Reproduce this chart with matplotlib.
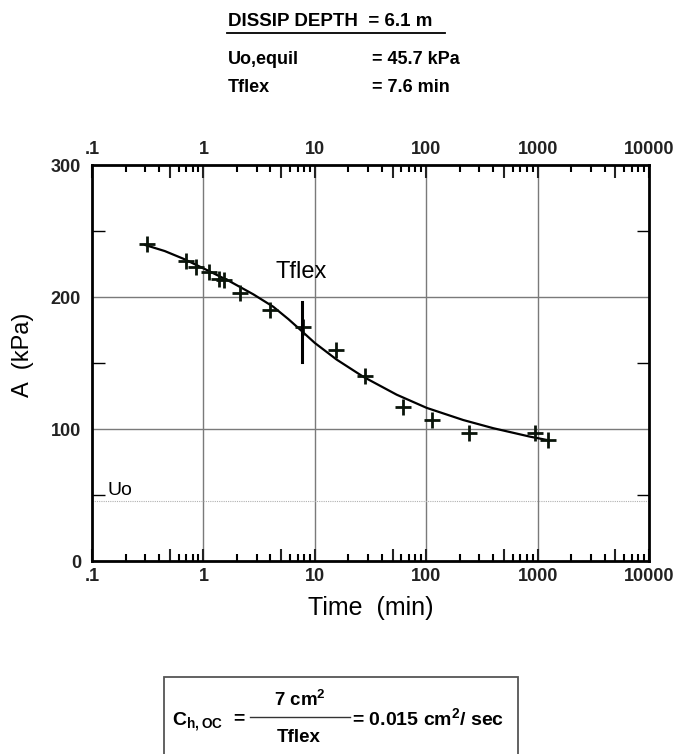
import matplotlib
matplotlib.use("Agg")
import matplotlib.pyplot as plt
from matplotlib.patches import Rectangle
from matplotlib.ticker import FixedLocator, FixedFormatter

plt.rcParams["font.family"] = ["Liberation Sans", "DejaVu Sans"]
plt.rcParams["mathtext.default"] = "regular"

# measured points (time in min, A in kPa)
time_min = [0.31, 0.70, 0.86, 1.12, 1.38, 1.53, 2.14, 3.98, 7.8, 15.5, 28.5, 62, 113, 240, 950, 1240]
a_kpa = [240, 227, 223, 219, 214, 213, 203, 190, 177, 160, 140, 117, 107, 97, 97, 92]

# fitted curve
fit_time = [0.30, 0.45, 0.66, 1.07, 1.73, 2.81, 4.24, 5.8, 7.36, 10.0, 15.7, 27.2, 54.3, 101, 215, 400, 855, 1208]
fit_a = [239.4, 234.8, 229.0, 220.5, 211.8, 202.0, 192.6, 183.2, 175.4, 165.2, 152.6, 139.6, 126.0, 116.0, 106.8, 100.6, 94.2, 91.7]

tflex = 7.6
tflex_span = [151, 196]
uo_equil = 45.7

decades = [0.1, 1, 10, 100, 1000, 10000]
decade_labels = [".1", "1", "10", "100", "1000", "10000"]
fives = [0.5, 5, 50, 500, 5000]
y_major = [0, 100, 200, 300]
y_minor = [50, 150, 250]

W, H = 678, 754
fig = plt.figure(figsize=(W / 100, H / 100), dpi=100)
ax = fig.add_axes([92 / W, 1 - 561 / H, (649 - 92) / W, (561 - 165) / H])

ax.set_xscale("log")
ax.set_xlim(0.1, 10000)
ax.set_ylim(0, 300)

# grid at inner decades and at 100 / 200
for d in decades[1:-1]:
    ax.axvline(d, color="#7a7a7a", lw=1.0, zorder=1)
for v in y_major[1:-1]:
    ax.axhline(v, color="#7a7a7a", lw=1.0, zorder=1)
ax.axhline(uo_equil, color="#b0b0b0", lw=0.8, ls=(0, (1, 1)), zorder=1)

ax.plot(fit_time, fit_a, color="black", lw=1.6, zorder=3, solid_joinstyle="round")
ax.plot(time_min, a_kpa, ls="none", marker="+", ms=11, mew=2.0, color="#0a140a", zorder=4)
ax.plot([tflex, tflex], tflex_span, color="black", lw=2.2, zorder=4)

ax.text(7.6, 219, "Tflex", fontsize=17, ha="center", va="center")
ax.text(0.138, 53.5, "Uo", fontsize=14, ha="left", va="center")

# ticks
major_x = sorted(decades + fives)
ax.xaxis.set_major_locator(FixedLocator(major_x))
ax.xaxis.set_major_formatter(FixedFormatter([decade_labels[decades.index(v)] if v in decades else "" for v in major_x]))
minor_x = [m * d for d in decades[:-1] for m in [2, 3, 4, 6, 7, 8, 9]]
ax.xaxis.set_minor_locator(FixedLocator(minor_x))
ax.xaxis.set_minor_formatter(FixedFormatter([""] * len(minor_x)))
ax.yaxis.set_major_locator(FixedLocator(y_major))
ax.yaxis.set_minor_locator(FixedLocator(y_minor))

ax.tick_params(axis="x", which="major", direction="in", length=9, width=1.5,
               top=True, labeltop=True, labelsize=13, pad=5, colors="#222222")
ax.tick_params(axis="x", which="minor", direction="in", length=5, width=1.5, top=True)
ax.tick_params(axis="y", which="major", length=0, labelsize=13, pad=8, colors="#222222")
ax.tick_params(axis="y", which="minor", direction="in", length=9, width=1.0, right=True)
for lab in ax.get_xticklabels() + ax.get_yticklabels():
    lab.set_fontweight("bold")

for sp in ax.spines.values():
    sp.set_linewidth(2.0)

ax.set_xlabel("Time  (min)", fontsize=18, labelpad=8)
ax.set_ylabel("A  (kPa)", fontsize=17)
ax.yaxis.set_label_coords(-(92 - 34) / (649 - 92), (561 - 355) / (561 - 165))

# header
fig.text(228 / W, 1 - 21 / H, "DISSIP DEPTH  = 6.1 m", fontsize=13.5, fontweight="bold", ha="left", va="center")
fig.add_artist(plt.Line2D([227 / W, 445 / W], [1 - 33 / H, 1 - 33 / H], color="black", lw=1.3))
fig.text(228 / W, 1 - 60 / H, "Uo,equil", fontsize=13, fontweight="bold", ha="left", va="center")
fig.text(372 / W, 1 - 60 / H, "= 45.7 kPa", fontsize=13, fontweight="bold", ha="left", va="center")
fig.text(228 / W, 1 - 88 / H, "Tflex", fontsize=13, fontweight="bold", ha="left", va="center")
fig.text(372 / W, 1 - 88 / H, "= 7.6 min", fontsize=13, fontweight="bold", ha="left", va="center")

# formula box
fig.add_artist(Rectangle((164 / W, -0.02), (518 - 164) / W, 0.02 + 1 - 677 / H,
                         transform=fig.transFigure, fill=False, edgecolor="#555555", lw=1.3))
fig.text(172 / W, 1 - 722 / H, r"C$_{h,OC}$", fontsize=14, fontweight="bold", ha="left", va="center")
fig.text(233 / W, 1 - 719 / H, "=", fontsize=14, fontweight="bold", ha="left", va="center")
fig.text(300 / W, 1 - 700 / H, r"7 cm$^2$", fontsize=13.5, fontweight="bold", ha="center", va="center")
fig.add_artist(plt.Line2D([250 / W, 350 / W], [1 - 717 / H, 1 - 717 / H], color="#333333", lw=1.0))
fig.text(299 / W, 1 - 738 / H, "Tflex", fontsize=13.5, fontweight="bold", ha="center", va="center")
fig.text(352 / W, 1 - 718 / H, r"= 0.015 cm$^2$/ sec", fontsize=14, fontweight="bold", ha="left", va="center")

fig.savefig("out.png", dpi=100)
